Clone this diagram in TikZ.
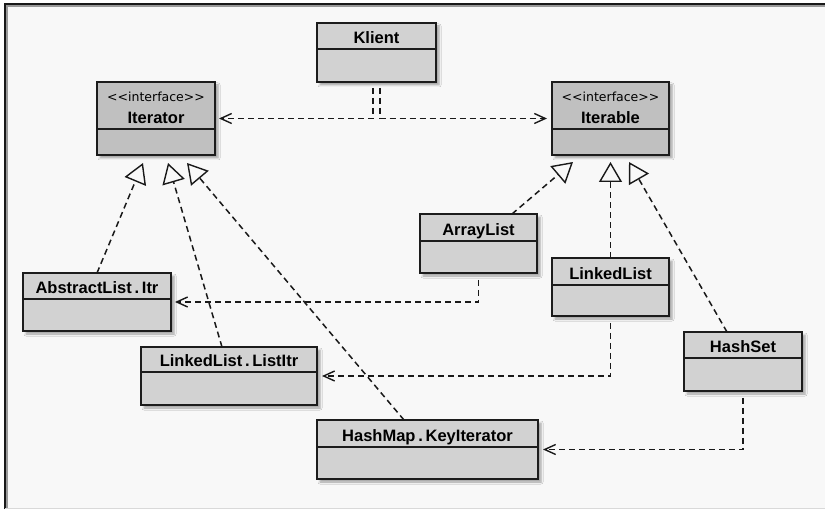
\documentclass[tikz,border=0pt]{standalone}
\usepackage{fontspec}
\setmainfont{Liberation Sans}
\newfontfamily\stereofont{DejaVu Sans}
\usetikzlibrary{arrows.meta,shadows.blur}

\definecolor{canvas}{RGB}{248,248,248}
\definecolor{classfill}{RGB}{210,210,210}
\definecolor{ifacefill}{RGB}{192,192,192}
\definecolor{boxline}{RGB}{28,28,28}
\definecolor{linkcol}{RGB}{25,25,25}

\tikzset{
  classbox/.style={draw=boxline, line width=1.6pt, fill=classfill, anchor=north west,
    inner sep=0pt, outer sep=0pt,
    blur shadow={shadow xshift=3pt, shadow yshift=-3pt, shadow blur radius=2pt,
      shadow blur steps=5, shadow opacity=35}},
  ifacebox/.style={classbox, fill=ifacefill},
  divider/.style={draw=boxline, line width=1.3pt},
  classname/.style={font=\fontsize{16.5}{16.5}\selectfont\bfseries, anchor=base, inner sep=0pt},
  stereo/.style={font=\stereofont\fontsize{12.5}{13}\selectfont, anchor=base, inner sep=0pt, text=black},
  link/.style={draw=linkcol, line width=1.5pt, dash pattern=on 6pt off 4pt},
  dep/.style={link, -{Straight Barb[length=11pt, width=10pt, line width=1.4pt]}},
  realize/.style={link, -{Triangle[open, length=20pt, width=23pt, line width=1.4pt]}}
}

% #1 name, #2 style, #3 left, #4 top, #5 right, #6 bottom, #7 divider, #8 label
\newcommand{\umlbox}[8]{%
  \node[#2, minimum width={#5pt-#3pt}, minimum height={#6pt-#4pt}] (#1) at (#3,#4) {};
  \draw[divider] (#3,#7) -- (#5,#7);
  \node[classname] (#1-label) at ({(#3+#5)/2},{#7-5}) {#8};
}

\begin{document}
\begin{tikzpicture}[x=1pt,y=-1pt]
  \useasboundingbox (0,0) rectangle (825,510);
  \fill[white] (0,0) rectangle (825,510);
  % drawing area with bevelled top and left edges
  \fill[canvas] (5,4) rectangle (825,508);
  \draw[black!90, line width=1.8pt] (5,509) -- (5,4) -- (825,4);
  \draw[black!40, line width=1.2pt] (7,509) -- (7,6) -- (825,6);
  \draw[black!15, line width=1pt] (5,508.5) -- (825,508.5);

  % classes
  \umlbox{klient}{classbox}{317}{23}{436}{82}{49}{Klient}
  \umlbox{iterator}{ifacebox}{97}{82}{215}{155}{129}{Iterator}
  \node[stereo] (iterator-st) at (156,102) {<<interface>>};
  \umlbox{iterable}{ifacebox}{552}{82}{669}{155}{129}{Iterable}
  \node[stereo] (iterable-st) at (610.5,102) {<<interface>>};
  \umlbox{arraylist}{classbox}{420}{214}{537}{273}{241}{ArrayList}
  \umlbox{linkedlist}{classbox}{552}{258}{669}{316}{285}{LinkedList}
  \umlbox{hashset}{classbox}{684}{332}{802}{391}{358}{HashSet}
  \umlbox{abstractitr}{classbox}{23}{273}{171}{331}{299}{AbstractList\,.\,Itr}
  \umlbox{listitr}{classbox}{141}{347}{317}{405}{372}{LinkedList\,.\,ListItr}
  \umlbox{keyiter}{classbox}{317}{420}{538}{479}{447}{HashMap\,.\,KeyIterator}

  % dependencies
  \draw[dep] ([xshift=-3.5pt,yshift=-6pt]klient.south) |- ([xshift=4pt]iterator.east);
  \draw[dep] ([xshift=3.5pt,yshift=-6pt]klient.south) |- ([xshift=-5pt]iterable.west);
  \draw[dep] ([yshift=-7pt]arraylist.south) |- ([xshift=4pt]abstractitr.east);
  \draw[dep] ([yshift=-7pt]linkedlist.south) |- ([xshift=5pt]listitr.east);
  \draw[dep] ([yshift=-7pt]hashset.south) |- ([xshift=5pt]keyiter.east);

  % realizations
  \draw[realize] (abstractitr.north) -- ([xshift=-13pt,yshift=-8pt]iterator.south);
  \draw[realize] ([xshift=-7pt]listitr.north) -- ([xshift=12pt,yshift=-8pt]iterator.south);
  \draw[realize] ([xshift=-23.5pt]keyiter.north) -- ([xshift=31pt,yshift=-8pt]iterator.south);
  \draw[realize] ([xshift=33.5pt]arraylist.north) -- ([xshift=-37.5pt,yshift=-7pt]iterable.south);
  \draw[realize] (linkedlist.north) -- ([yshift=-7pt]iterable.south);
  \draw[realize] ([xshift=-16pt]hashset.north) -- ([xshift=18.5pt,yshift=-7pt]iterable.south);
\end{tikzpicture}
\end{document}
